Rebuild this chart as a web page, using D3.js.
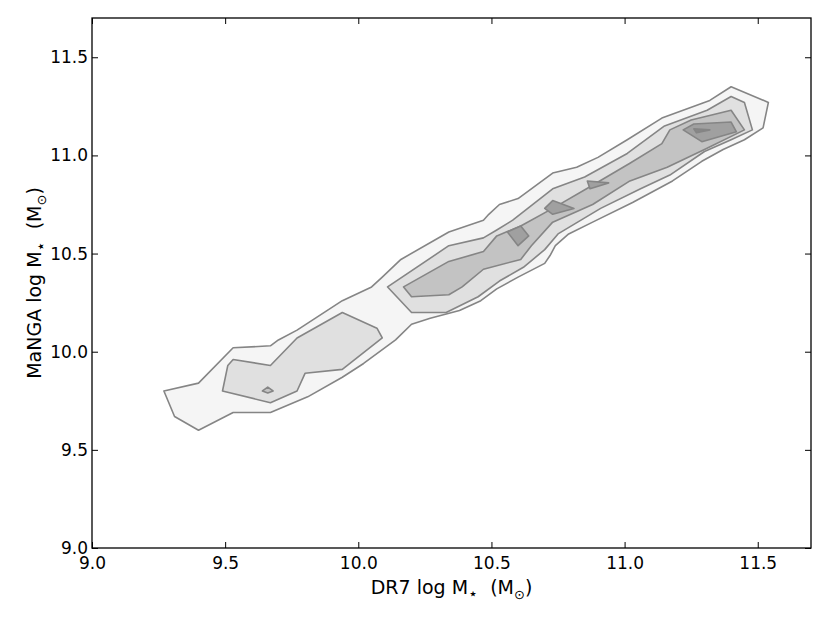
<!DOCTYPE html>
<html>
<head>
<meta charset="utf-8">
<title>DR7 vs MaNGA stellar mass</title>
<script src="https://cdn.jsdelivr.net/npm/d3@7"></script>
<style>
body{ margin:0; background:#fff; }
text{ font-family:"DejaVu Sans", sans-serif; }
</style>
</head>
<body>
<svg id="chart" width="830" height="623"></svg>
<script>
// axis ticks
var tickValues = [9.0, 9.5, 10.0, 10.5, 11.0, 11.5];

// contour outlines, [DR7 log M, MaNGA log M]
var level1 = [
	[9.27,9.80],[9.40,9.84],[9.53,10.02],[9.67,10.03],[9.70,10.06],[9.77,10.11],
	[9.94,10.26],[10.05,10.33],[10.09,10.38],[10.16,10.47],[10.34,10.61],[10.47,10.67],
	[10.49,10.70],[10.53,10.75],[10.60,10.78],[10.73,10.91],[10.82,10.94],[10.90,10.99],
	[11.01,11.08],[11.14,11.19],[11.32,11.28],[11.40,11.35],[11.54,11.27],[11.52,11.14],
	[11.45,11.08],[11.37,11.03],[11.29,10.97],[11.18,10.87],[11.03,10.76],[10.88,10.66],
	[10.79,10.60],[10.74,10.54],[10.72,10.49],[10.70,10.45],[10.60,10.38],[10.52,10.32],
	[10.46,10.26],[10.38,10.21],[10.27,10.17],[10.20,10.14],[10.14,10.06],[10.02,9.94],
	[9.94,9.87],[9.81,9.77],[9.67,9.69],[9.53,9.69],[9.40,9.60],[9.31,9.67]
];
var level2Left = [
	[9.49,9.80],[9.51,9.93],[9.53,9.96],[9.67,9.93],[9.77,10.07],[9.94,10.20],
	[10.07,10.12],[10.09,10.07],[9.94,9.91],[9.80,9.89],[9.77,9.80],[9.67,9.74]
];
var level2Right = [
	[10.11,10.33],[10.34,10.54],[10.47,10.58],[10.52,10.62],[10.58,10.67],[10.73,10.83],
	[10.85,10.89],[11.01,11.01],[11.15,11.15],[11.31,11.23],[11.40,11.30],[11.45,11.27],
	[11.48,11.13],[11.40,11.08],[11.30,11.02],[11.17,10.90],[11.06,10.83],[10.91,10.73],
	[10.75,10.60],[10.70,10.52],[10.62,10.43],[10.53,10.36],[10.45,10.28],[10.33,10.20],
	[10.20,10.20]
];
var level3Left = [[9.64,9.80],[9.66,9.82],[9.68,9.80],[9.66,9.79]];
var level3Right = [
	[10.17,10.33],[10.34,10.46],[10.47,10.51],[10.52,10.59],[10.61,10.64],[10.73,10.73],
	[10.87,10.84],[11.02,10.96],[11.14,11.06],[11.17,11.13],[11.25,11.18],[11.40,11.23],
	[11.45,11.13],[11.30,11.03],[11.16,10.94],[11.02,10.87],[10.88,10.75],[10.73,10.66],
	[10.65,10.54],[10.61,10.47],[10.47,10.42],[10.39,10.33],[10.34,10.29],[10.20,10.28]
];
var level4a = [[10.56,10.61],[10.61,10.64],[10.64,10.59],[10.60,10.54]];
var level4b = [[10.70,10.73],[10.73,10.77],[10.81,10.73],[10.73,10.70]];
var level4c = [[10.86,10.87],[10.94,10.86],[10.87,10.83]];
var level4d = [[11.22,11.13],[11.26,11.16],[11.40,11.17],[11.42,11.12],[11.29,11.07]];
var level5 = [[11.26,11.135],[11.32,11.13],[11.27,11.115]];

var levelFills = ['#f5f5f5', '#e0e0e0', '#c3c3c3', '#a0a0a0', '#878787'];
var levelShapes = [
	[level1],
	[level2Left, level2Right],
	[level3Left, level3Right],
	[level4a, level4b, level4c, level4d],
	[level5]
];

var padL = 92, padR = 811, padT = 18, padB = 548;

var svg = d3.select('#chart');

var x = d3.scaleLinear().domain([9.0, 11.7]).range([padL, padR]);
var y = d3.scaleLinear().domain([9.0, 11.7]).range([padB, padT]);

var line = d3.line()
	.x(function(d){ return x(d[0]); })
	.y(function(d){ return y(d[1]); })
	.curve(d3.curveLinearClosed);

var g = svg.append('g');
levelShapes.forEach(function(shapes, i){
	g.selectAll('.lev' + i)
		.data(shapes)
		.enter().append('path')
		.attr('class', 'lev' + i)
		.attr('d', line)
		.style('fill', levelFills[i])
		.style('stroke', '#858585')
		.style('stroke-width', 1.6)
		.style('stroke-linejoin', 'round');
});

var fmt = d3.format('.1f');

// axes, ticks pointing inwards
var xAxis = svg.append('g')
	.attr('transform', 'translate(0,' + padB + ')')
	.call(d3.axisBottom(x).tickValues(tickValues).tickFormat(fmt)
		.tickSizeInner(-6).tickSizeOuter(0).tickPadding(9));
var yAxis = svg.append('g')
	.attr('transform', 'translate(' + padL + ',0)')
	.call(d3.axisLeft(y).tickValues(tickValues).tickFormat(fmt)
		.tickSizeInner(-6).tickSizeOuter(0).tickPadding(4));
var xTop = svg.append('g')
	.attr('transform', 'translate(0,' + padT + ')')
	.call(d3.axisTop(x).tickValues(tickValues).tickFormat('')
		.tickSizeInner(-6).tickSizeOuter(0));
var yRight = svg.append('g')
	.attr('transform', 'translate(' + padR + ',0)')
	.call(d3.axisRight(y).tickValues(tickValues).tickFormat('')
		.tickSizeInner(-6).tickSizeOuter(0));

[xAxis, yAxis, xTop, yRight].forEach(function(a){
	a.select('.domain').remove();
	a.selectAll('line').style('stroke', '#000').style('stroke-width', 1);
	a.selectAll('text').style('font-size', '17px').style('fill', '#000')
		.style('font-family', '"DejaVu Sans", sans-serif');
});

svg.append('rect')
	.attr('x', padL).attr('y', padT)
	.attr('width', padR - padL).attr('height', padB - padT)
	.style('fill', 'none').style('stroke', '#000').style('stroke-width', 1.3);

// axis labels with mathtext-like subscripts
function label(sel, main){
	sel.append('tspan').text(main + ' M');
	sel.append('tspan').text('\u22C6').attr('dy', 5).style('font-size', '16px');
	sel.append('tspan').text('\u00A0\u00A0(M').attr('dy', -5);
	sel.append('tspan').text('\u2299').attr('dy', 5).style('font-size', '13px');
	sel.append('tspan').text(')').attr('dy', -5);
}

var xl = svg.append('text')
	.attr('x', (padL + padR) / 2).attr('y', 594)
	.attr('text-anchor', 'middle')
	.style('font-size', '19px');
label(xl, 'DR7 log');

var yl = svg.append('text')
	.attr('transform', 'translate(41,' + ((padT + padB) / 2) + ') rotate(-90)')
	.attr('text-anchor', 'middle')
	.style('font-size', '19px');
label(yl, 'MaNGA log');
</script>
</body>
</html>
